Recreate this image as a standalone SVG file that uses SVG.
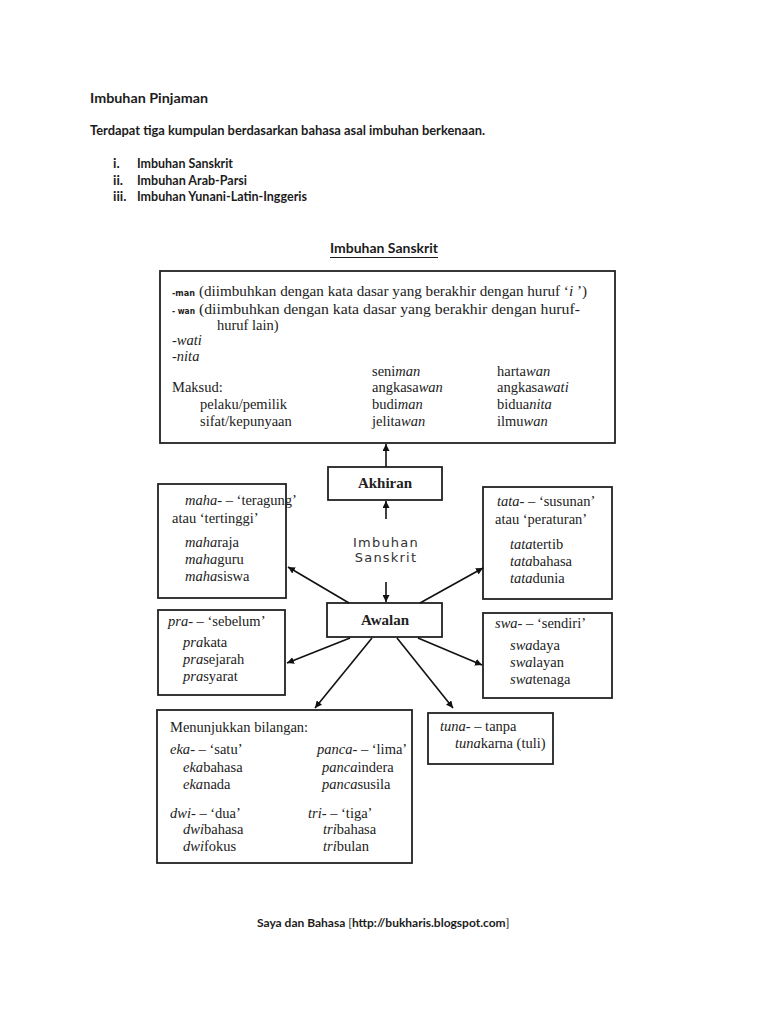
<svg xmlns="http://www.w3.org/2000/svg" width="768" height="1024" viewBox="0 0 768 1024">
<style>
.hd{font-family:Lato,"Open Sans",sans-serif;font-weight:bold;font-size:13.5px;fill:#1c1c1c}
.s{font-family:"Liberation Serif","Times New Roman",serif;font-size:14.5px;fill:#222}
.b{font-weight:bold}
.i{font-style:italic}
.sn{font-family:"DejaVu Sans",sans-serif;font-weight:bold;font-size:9.5px;fill:#222}
.c{font-family:"DejaVu Sans",sans-serif;font-size:13px;letter-spacing:1.2px;fill:#333}
.box{fill:#fff;stroke:#222;stroke-width:1.8}
.ln{stroke:#111;stroke-width:1.6;fill:none}
</style>
<defs>
<marker id="ah" viewBox="0 0 10 10" refX="10" refY="5" markerWidth="7" markerHeight="7" markerUnits="userSpaceOnUse" orient="auto">
<path d="M0,0 L10,5 L0,10 z" fill="#111"/>
</marker>
</defs>
<rect width="768" height="1024" fill="#fff"/>

<g id="header">
<text class="hd" x="90" y="103" textLength="118" lengthAdjust="spacingAndGlyphs">Imbuhan Pinjaman</text>
<text class="hd" x="90" y="135" textLength="395" lengthAdjust="spacingAndGlyphs">Terdapat tiga kumpulan berdasarkan bahasa asal imbuhan berkenaan.</text>
<text class="hd" x="113" y="168">i.</text>
<text class="hd" x="137" y="168" textLength="96" lengthAdjust="spacingAndGlyphs">Imbuhan Sanskrit</text>
<text class="hd" x="113" y="185">ii.</text>
<text class="hd" x="137" y="185" textLength="110" lengthAdjust="spacingAndGlyphs">Imbuhan Arab-Parsi</text>
<text class="hd" x="113" y="201">iii.</text>
<text class="hd" x="137" y="201" textLength="170" lengthAdjust="spacingAndGlyphs">Imbuhan Yunani-Latin-Inggeris</text>
<text class="hd" x="330" y="253" textLength="108" lengthAdjust="spacingAndGlyphs">Imbuhan Sanskrit</text>
<line x1="330" y1="257.5" x2="438" y2="257.5" stroke="#1c1c1c" stroke-width="1.2"/>
</g>

<g id="akhiran-detail">
<rect class="box" x="160" y="271" width="455" height="172"/>
<text class="sn" x="172" y="296" textLength="23" lengthAdjust="spacingAndGlyphs">-man</text>
<text class="s" x="199" y="296" textLength="388" lengthAdjust="spacingAndGlyphs">(diimbuhkan dengan kata dasar yang berakhir dengan huruf ‘<tspan class="i">i</tspan> ’)</text>
<text class="sn" x="172" y="314" textLength="23" lengthAdjust="spacingAndGlyphs">- wan</text>
<text class="s" x="199" y="314" textLength="381" lengthAdjust="spacingAndGlyphs">(diimbuhkan dengan kata dasar yang berakhir dengan huruf-</text>
<text class="s" x="217" y="330">huruf lain)</text>
<text class="s i" x="172" y="345">-wati</text>
<text class="s i" x="172" y="361">-nita</text>
<text class="s" x="172" y="392">Maksud:</text>
<text class="s" x="200" y="409">pelaku/pemilik</text>
<text class="s" x="200" y="426">sifat/kepunyaan</text>
<text class="s" x="372" y="376">seni<tspan class="i">man</tspan></text>
<text class="s" x="372" y="392">angkasa<tspan class="i">wan</tspan></text>
<text class="s" x="372" y="409">budi<tspan class="i">man</tspan></text>
<text class="s" x="372" y="426">jelita<tspan class="i">wan</tspan></text>
<text class="s" x="497" y="376">harta<tspan class="i">wan</tspan></text>
<text class="s" x="497" y="392">angkasa<tspan class="i">wati</tspan></text>
<text class="s" x="497" y="409">bidua<tspan class="i">nita</tspan></text>
<text class="s" x="497" y="426">ilmu<tspan class="i">wan</tspan></text>
</g>

<g id="akhiran">
<rect class="box" x="328" y="467" width="114" height="33"/>
<text class="s b" x="385" y="488" text-anchor="middle" style="font-size:15px">Akhiran</text>
</g>

<g id="center">
<text class="c" x="386" y="547" text-anchor="middle">Imbuhan</text>
<text class="c" x="386" y="562" text-anchor="middle">Sanskrit</text>
</g>

<g id="awalan">
<rect class="box" x="327" y="603" width="115" height="34"/>
<text class="s b" x="385" y="625" text-anchor="middle" style="font-size:15px">Awalan</text>
</g>

<g id="maha">
<rect class="box" x="158" y="484" width="128" height="114"/>
<text class="s" x="185" y="505"><tspan class="i">maha</tspan>- – ‘teragung’</text>
<text class="s" x="172" y="523">atau ‘tertinggi’</text>
<text class="s" x="185" y="547"><tspan class="i">maha</tspan>raja</text>
<text class="s" x="185" y="564"><tspan class="i">maha</tspan>guru</text>
<text class="s" x="185" y="581"><tspan class="i">maha</tspan>siswa</text>
</g>

<g id="tata">
<rect class="box" x="483" y="487" width="129" height="112"/>
<text class="s" x="497" y="506"><tspan class="i">tata</tspan>- – ‘susunan’</text>
<text class="s" x="495" y="524">atau ‘peraturan’</text>
<text class="s" x="510" y="549"><tspan class="i">tata</tspan>tertib</text>
<text class="s" x="510" y="566"><tspan class="i">tata</tspan>bahasa</text>
<text class="s" x="510" y="583"><tspan class="i">tata</tspan>dunia</text>
</g>

<g id="pra">
<rect class="box" x="158" y="610" width="127" height="85"/>
<text class="s" x="168" y="626"><tspan class="i">pra</tspan>- – ‘sebelum’</text>
<text class="s" x="183" y="647"><tspan class="i">pra</tspan>kata</text>
<text class="s" x="183" y="664"><tspan class="i">pra</tspan>sejarah</text>
<text class="s" x="183" y="681"><tspan class="i">pra</tspan>syarat</text>
</g>

<g id="swa">
<rect class="box" x="483" y="613" width="129" height="85"/>
<text class="s" x="495" y="628"><tspan class="i">swa</tspan>- – ‘sendiri’</text>
<text class="s" x="510" y="650"><tspan class="i">swa</tspan>daya</text>
<text class="s" x="510" y="667"><tspan class="i">swa</tspan>layan</text>
<text class="s" x="510" y="684"><tspan class="i">swa</tspan>tenaga</text>
</g>

<g id="bilangan">
<rect class="box" x="157" y="710" width="255" height="153"/>
<text class="s" x="170" y="732">Menunjukkan bilangan:</text>
<text class="s" x="170" y="754"><tspan class="i">eka</tspan>- – ‘satu’</text>
<text class="s" x="183" y="772"><tspan class="i">eka</tspan>bahasa</text>
<text class="s" x="183" y="789"><tspan class="i">eka</tspan>nada</text>
<text class="s" x="170" y="818"><tspan class="i">dwi</tspan>- – ‘dua’</text>
<text class="s" x="183" y="834"><tspan class="i">dwi</tspan>bahasa</text>
<text class="s" x="183" y="851"><tspan class="i">dwi</tspan>fokus</text>
<text class="s" x="317" y="754"><tspan class="i">panca</tspan>- – ‘lima’</text>
<text class="s" x="322" y="772"><tspan class="i">panca</tspan>indera</text>
<text class="s" x="322" y="789"><tspan class="i">panca</tspan>susila</text>
<text class="s" x="308" y="818"><tspan class="i">tri</tspan>- – ‘tiga’</text>
<text class="s" x="323" y="834"><tspan class="i">tri</tspan>bahasa</text>
<text class="s" x="323" y="851"><tspan class="i">tri</tspan>bulan</text>
</g>

<g id="tuna">
<rect class="box" x="428" y="713" width="125" height="51"/>
<text class="s" x="440" y="731"><tspan class="i">tuna</tspan>- – tanpa</text>
<text class="s" x="455" y="748"><tspan class="i">tuna</tspan>karna (tuli)</text>
</g>

<g id="connectors">
<line class="ln" x1="386" y1="467" x2="386" y2="444" marker-end="url(#ah)"/>
<line class="ln" x1="386" y1="519" x2="386" y2="501" marker-end="url(#ah)"/>
<line class="ln" x1="386" y1="582" x2="386" y2="602" marker-end="url(#ah)"/>
<line class="ln" x1="349" y1="603" x2="288" y2="567" marker-end="url(#ah)"/>
<line class="ln" x1="420" y1="603" x2="483" y2="568" marker-end="url(#ah)"/>
<line class="ln" x1="350" y1="638" x2="287" y2="663" marker-end="url(#ah)"/>
<line class="ln" x1="418" y1="638" x2="482" y2="665" marker-end="url(#ah)"/>
<line class="ln" x1="372" y1="638" x2="315" y2="708" marker-end="url(#ah)"/>
<line class="ln" x1="397" y1="638" x2="453" y2="708" marker-end="url(#ah)"/>
</g>

<g id="footer">
<text class="hd" x="257" y="927" style="font-size:12px">Saya dan Bahasa <tspan style="font-weight:normal">[</tspan>http://bukharis.blogspot.com<tspan style="font-weight:normal">]</tspan></text>
</g>
</svg>
